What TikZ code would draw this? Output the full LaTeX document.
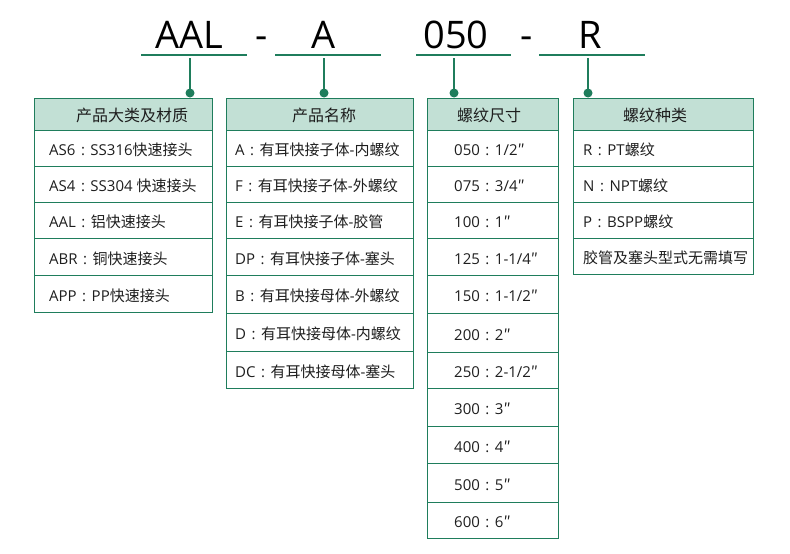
\documentclass[tikz,border=0pt]{standalone}
\usepackage{fontspec}
\setmainfont{Open Sans}
\newfontfamily\cjk{Noto Sans CJK SC}
\newXeTeXintercharclass\cjkcls
\newcount\cjkcc
\cjkcc="4E00
\loop\ifnum\cjkcc<"A000 \XeTeXcharclass\cjkcc=\cjkcls \advance\cjkcc by 1 \repeat
\XeTeXcharclass"2033=\cjkcls
\XeTeXinterchartokenstate=1
\XeTeXinterchartoks 0 \cjkcls = {\cjk}
\XeTeXinterchartoks 4095 \cjkcls = {\cjk}
\XeTeXinterchartoks \cjkcls 0 = {\rmfamily}
\XeTeXinterchartoks \cjkcls 4095 = {\rmfamily}
\newcommand\cln{\makebox[15pt]{:}}
\definecolor{gline}{HTML}{1F7D5C}
\definecolor{hfill}{HTML}{C2E0D5}
\definecolor{txt}{HTML}{1E1E1E}
\begin{document}
\begin{tikzpicture}[x=1pt,y=-1pt,
  code/.style={font=\fontsize{38}{40}\selectfont, text=black, anchor=base, inner sep=0pt},
  uline/.style={draw=gline, line width=1.1pt},
  stem/.style={draw=gline, line width=1.1pt},
  dotc/.style={circle, fill=gline, minimum size=9pt, inner sep=0pt},
  hdr/.style={draw=gline, fill=hfill, line width=1.2pt, anchor=north west, inner sep=0pt},
  htext/.style={font=\cjk\fontsize{16}{18}\selectfont, text=txt, inner sep=0pt},
  cell/.style={draw=gline, line width=1.2pt, anchor=north west, inner sep=0pt},
  ctext/.style={font=\fontsize{15}{18}\selectfont, text=txt, anchor=west, inner sep=0pt}]
\useasboundingbox (0,0) rectangle (790,554);

% code line
\node[code] (k1) at (189,48) {AAL};
\node[code] (k2) at (262,48) {-};
\node[code] (k3) at (324,48) {A};
\node[code] (k4) at (456,48) {050};
\node[code] (k5) at (527,48) {-};
\node[code] (k6) at (590,48) {R};

\coordinate (u1a) at (141,55); \coordinate (u1b) at (247,55);
\coordinate (u2a) at (275,55); \coordinate (u2b) at (381,55);
\coordinate (u3a) at (416,55); \coordinate (u3b) at (511,55);
\coordinate (u4a) at (539,55); \coordinate (u4b) at (645,55);
\draw[uline] (u1a) -- (u1b);
\draw[uline] (u2a) -- (u2b);
\draw[uline] (u3a) -- (u3b);
\draw[uline] (u4a) -- (u4b);

% headers
\node[hdr, minimum width=178pt, minimum height=32pt] (h1) at (34,98) {};
\node[hdr, minimum width=187pt, minimum height=32pt] (h2) at (226,98) {};
\node[hdr, minimum width=131pt, minimum height=32pt] (h3) at (427,98) {};
\node[hdr, minimum width=180pt, minimum height=32pt] (h4) at (573,98) {};
\node[htext] (ht1) at (132,115) {产品大类及材质};
\node[htext] (ht2) at (324,115) {产品名称};
\node[htext] (ht3) at (489,115) {螺纹尺寸};
\node[htext] (ht4) at (655,115) {螺纹种类};

% column 1
\foreach \t/\b/\s [count=\i] in {130/166/{AS6\cln SS316快速接头},166/202/{AS4\cln SS304 快速接头},202/238/{AAL\cln 铝快速接头},238/275/{ABR\cln 铜快速接头},275/312/{APP\cln PP快速接头}}{
  \pgfmathsetmacro\hh{\b-\t}
  \pgfmathsetmacro\mm{(\b+\t)/2+2}
  \node[cell, minimum width=178pt, minimum height=\hh pt] (ca\i) at (34,\t) {};
  \node[ctext] (ta\i) at (49,\mm) {\s};
}
% column 2
\foreach \t/\b/\s [count=\i] in {130/166/{A\cln 有耳快接子体-内螺纹},166/202/{F\cln 有耳快接子体-外螺纹},202/238/{E\cln 有耳快接子体-胶管},238/275/{DP\cln 有耳快接子体-塞头},275/313/{B\cln 有耳快接母体-外螺纹},313/351/{D\cln 有耳快接母体-内螺纹},351/388/{DC\cln 有耳快接母体-塞头}}{
  \pgfmathsetmacro\hh{\b-\t}
  \pgfmathsetmacro\mm{(\b+\t)/2+2}
  \node[cell, minimum width=187pt, minimum height=\hh pt] (cb\i) at (226,\t) {};
  \node[ctext] (tb\i) at (235,\mm) {\s};
}
% column 3
\foreach \t/\b/\s [count=\i] in {130/166/{050\cln 1/2″},166/202/{075\cln 3/4″},202/238/{100\cln 1″},238/275/{125\cln 1-1/4″},275/313/{150\cln 1-1/2″},313/352/{200\cln 2″},352/388/{250\cln 2-1/2″},388/426/{300\cln 3″},426/463/{400\cln 4″},463/502/{500\cln 5″},502/538/{600\cln 6″}}{
  \pgfmathsetmacro\hh{\b-\t}
  \pgfmathsetmacro\mm{(\b+\t)/2+2}
  \node[cell, minimum width=131pt, minimum height=\hh pt] (cc\i) at (427,\t) {};
  \node[ctext] (tc\i) at (454,\mm) {\s};
}
% column 4
\foreach \t/\b/\s [count=\i] in {130/166/{R\cln PT螺纹},166/202/{N\cln NPT螺纹},202/238/{P\cln BSPP螺纹},238/274/{胶管及塞头型式无需填写}}{
  \pgfmathsetmacro\hh{\b-\t}
  \pgfmathsetmacro\mm{(\b+\t)/2+2}
  \node[cell, minimum width=180pt, minimum height=\hh pt] (cd\i) at (573,\t) {};
  \node[ctext] (td\i) at (583,\mm) {\s};
}

% connectors
\node[dotc] (d1) at (190,93) {};
\node[dotc] (d2) at (324,93) {};
\node[dotc] (d3) at (454,93) {};
\node[dotc] (d4) at (588,93) {};
\coordinate (s1) at (190,58);
\coordinate (s2) at (324,58);
\coordinate (s3) at (454,58);
\coordinate (s4) at (588,58);
\draw[stem] (s1) -- (d1.center);
\draw[stem] (s2) -- (d2.center);
\draw[stem] (s3) -- (d3.center);
\draw[stem] (s4) -- (d4.center);
\end{tikzpicture}
\end{document}
